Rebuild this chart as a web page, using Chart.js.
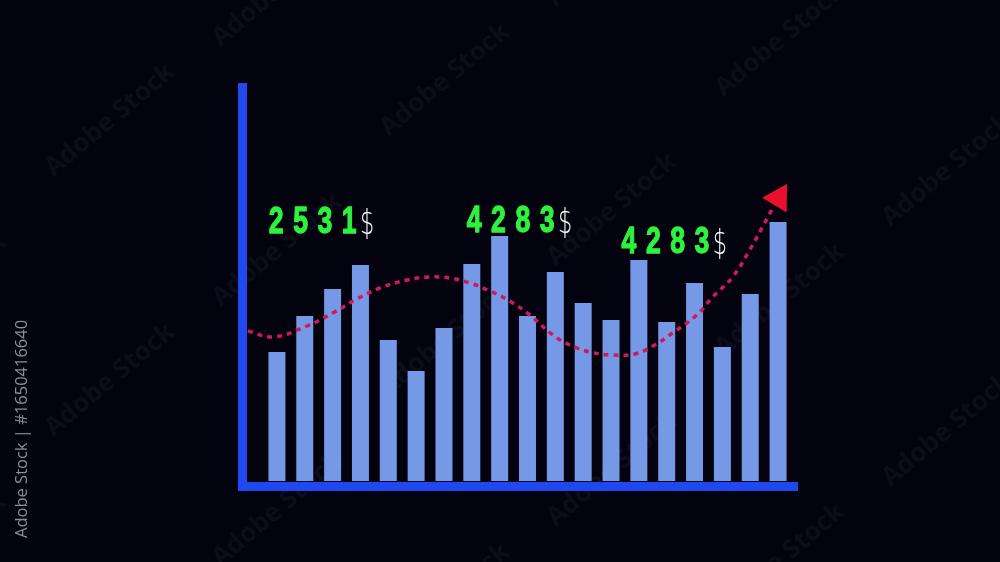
<!DOCTYPE html>
<html>
<head>
<meta charset="utf-8">
<script src="https://cdn.jsdelivr.net/npm/chart.js@4/dist/chart.umd.min.js"></script>
<style>
  html, body { margin: 0; padding: 0; background: #03030f; }
  #wrap { width: 1000px; height: 562px; position: relative; }
</style>
</head>
<body>
<div id="wrap"><canvas id="c" width="1000" height="562"></canvas></div>
<script>
// ---- data ----
const categories = ['1','2','3','4','5','6','7','8','9','10','11','12','13','14','15','16','17','18','19'];
const barValues = [129,165,192,216,141,110,153,217,245,165,209,178,161,221,159,198,134,187,259];
const curveX = [-1.04,-0.14,1.08,2.01,2.87,3.70,4.67,5.49,6.21,6.93,7.65,8.36,9.08,9.91,10.52,11.24,12.02,12.85,13.57,14.21,15.08,15.65,16.37,16.98,17.44,17.77];
const curveY = [150,144,155,168,182,193,201,204,203,198,190,180,166,146,136,129,126,127,136,148,166,184,204,231,254,271];
const arrowX = [18.02];
const arrowY = [283];
const labelTexts = ['2531','4283','4283'];
const labelX = [-0.29, 6.82, 12.38];
const labelY = [248, 249, 228];
const watermarkText = 'Adobe Stock | #1650416640';

const curveData = curveX.map((x, i) => ({ x, y: curveY[i] }));
const arrowData = arrowX.map((x, i) => ({ x, y: arrowY[i] }));

const bgPlugin = {
  id: 'bg',
  beforeDraw(chart) {
    const ctx = chart.ctx;
    ctx.save();
    ctx.fillStyle = '#03030f';
    ctx.fillRect(0, 0, chart.width, chart.height);
    // faint diagonal watermarks
    ctx.fillStyle = 'rgba(255,255,255,0.045)';
    ctx.font = 'bold 26px "Open Sans"';
    ctx.textAlign = 'center';
    ctx.textBaseline = 'middle';
    for (let j = -1; j < 6; j++) {
      for (let i = -1; i < 5; i++) {
        const cx = 110 + i * 335 + (j % 2 ? 167 : 0);
        const cy = 120 + j * 130 - i * 40;
        ctx.save();
        ctx.translate(cx, cy);
        ctx.rotate(-40 * Math.PI / 180);
        ctx.fillText('Adobe Stock', 0, 0);
        ctx.restore();
      }
    }
    // vertical id text
    ctx.save();
    ctx.translate(22, 538);
    ctx.rotate(-Math.PI / 2);
    ctx.fillStyle = '#8e8e98';
    ctx.font = '16.5px "Open Sans"';
    ctx.textAlign = 'left';
    ctx.textBaseline = 'middle';
    ctx.fillText(watermarkText, 0, 0);
    ctx.restore();
    ctx.restore();
  },
  beforeDatasetsDraw(chart) {
    const { ctx, chartArea } = chart;
    ctx.save();
    ctx.fillStyle = '#1f48ee';
    // y axis
    ctx.fillRect(chartArea.left - 25, chartArea.top, 9, chartArea.bottom - chartArea.top + 10);
    // x axis
    ctx.fillRect(chartArea.left - 25, chartArea.bottom + 1, chartArea.right - chartArea.left + 31, 9);
    ctx.restore();
  },
  afterDatasetsDraw(chart) {
    const ctx = chart.ctx;
    const sx = chart.scales.x2, sy = chart.scales.y;
    ctx.save();
    labelTexts.forEach((t, k) => {
      let x = sx.getPixelForValue(labelX[k]);
      const y = sy.getPixelForValue(labelY[k]);
      ctx.textAlign = 'left';
      ctx.textBaseline = 'alphabetic';
      ctx.font = 'bold 37px "Liberation Sans"';
      ctx.fillStyle = '#2ef23c';
      ctx.strokeStyle = '#2ef23c';
      ctx.lineWidth = 1.3;
      ctx.lineJoin = 'round';
      for (const ch of t) {
        ctx.save();
        ctx.translate(x, y);
        ctx.scale(0.72, 1);
        ctx.fillText(ch, 0, 0);
        ctx.strokeText(ch, 0, 0);
        ctx.restore();
        x += 24.3;
      }
      ctx.font = '300 32px "DejaVu Sans"';
      ctx.fillStyle = '#ffffff';
      ctx.save();
      ctx.translate(x - 6, y + 1);
      ctx.scale(0.7, 1.05);
      ctx.fillText('$', 0, 0);
      ctx.restore();
    });
    ctx.restore();
  }
};

new Chart(document.getElementById('c'), {
  type: 'bar',
  data: {
    labels: categories,
    datasets: [
      {
        type: 'line',
        data: curveData,
        xAxisID: 'x2',
        yAxisID: 'y',
        borderColor: '#d01a58',
        borderWidth: 3.5,
        borderDash: [5, 5],
        borderCapStyle: 'butt',
        tension: 0.4,
        pointRadius: 0,
        fill: false,
        clip: false,
        order: 0
      },
      {
        type: 'scatter',
        data: arrowData,
        xAxisID: 'x2',
        yAxisID: 'y',
        pointStyle: 'triangle',
        rotation: 271,
        pointRadius: 16.5,
        pointHoverRadius: 16.5,
        backgroundColor: '#e8102a',
        borderColor: '#e8102a',
        borderWidth: 0,
        clip: false,
        order: 0
      },
      {
        type: 'bar',
        data: barValues,
        xAxisID: 'x',
        yAxisID: 'y',
        backgroundColor: '#7599e6',
        borderWidth: 0,
        grouped: false,
        categoryPercentage: 1,
        barPercentage: 0.61,
        order: 1
      }
    ]
  },
  options: {
    responsive: false,
    animation: false,
    layout: { padding: { left: 263, right: 208, top: 83, bottom: 81 } },
    plugins: { legend: { display: false }, tooltip: { enabled: false } },
    scales: {
      x: { type: 'category', display: false, offset: true },
      x2: { type: 'linear', display: false, offset: false, min: -0.5, max: 18.5 },
      y: { type: 'linear', display: false, min: 0, max: 398 }
    }
  },
  plugins: [bgPlugin]
});
</script>
</body>
</html>
